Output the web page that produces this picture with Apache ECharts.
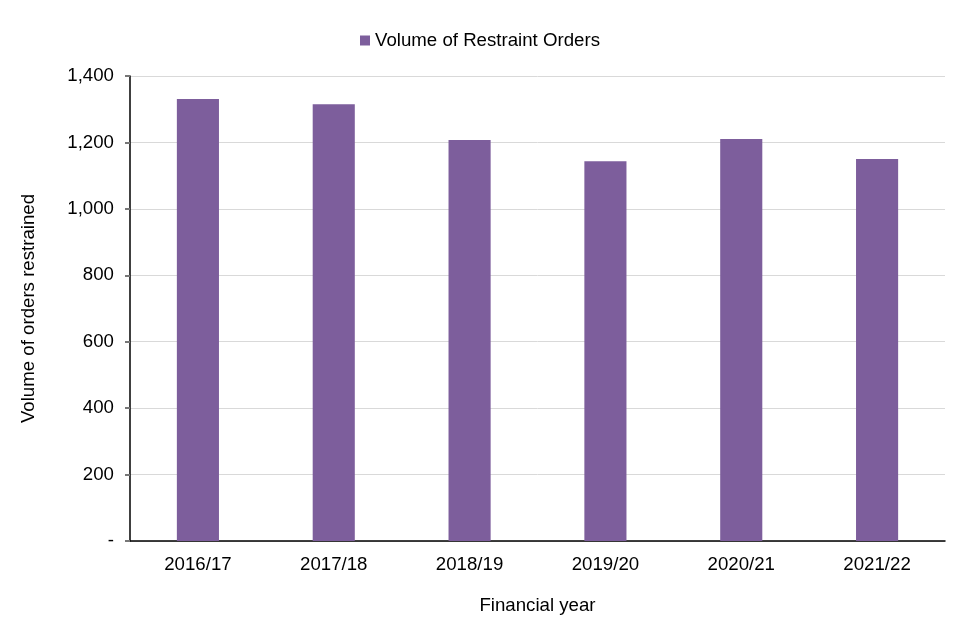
<!DOCTYPE html>
<html><head><meta charset="utf-8">
<script src="https://cdn.jsdelivr.net/npm/echarts@6/dist/echarts.min.js"></script>
<style>html,body{margin:0;padding:0;background:#fff}#c{width:960px;height:640px}</style>
</head><body><div id="c"></div>
<script>
const categories = ['2016/17','2017/18','2018/19','2019/20','2020/21','2021/22'];
const seriesName = 'Volume of Restraint Orders';
const values = [1331, 1315, 1207, 1143, 1210, 1150];
const yTicks = [0, 200, 400, 600, 800, 1000, 1200, 1400];

const chart = echarts.init(document.getElementById('c'), null, {renderer:'canvas'});
const font = 'Liberation Sans, Arial, sans-serif';
const fs = 18.67;
chart.setOption({
  animation:false,
  textStyle:{fontFamily:font},
  legend:{
    data:[seriesName], top:26, left:'center', itemWidth:10, itemHeight:10, itemGap:3,
    icon:'rect', textStyle:{fontFamily:font, fontSize:fs, color:'#000'}
  },
  grid:{left:130, right:15, top:76, bottom:99, containLabel:false},
  xAxis:{
    type:'category', data:categories, boundaryGap:true,
    name:'Financial year', nameLocation:'middle', nameGap:55,
    nameTextStyle:{fontFamily:font, fontSize:fs, color:'#000'},
    axisLine:{lineStyle:{color:'#000', width:1.5}},
    axisTick:{alignWithLabel:true, length:5, lineStyle:{color:'#888'}},
    axisLabel:{fontFamily:font, fontSize:fs, color:'#000', margin:14}
  },
  yAxis:{
    type:'value', min:yTicks[0], max:yTicks[yTicks.length-1], interval:200,
    name:'Volume of orders restrained', nameLocation:'middle', nameGap:92, nameRotate:90,
    nameTextStyle:{fontFamily:font, fontSize:fs, color:'#000'},
    axisLine:{show:true, lineStyle:{color:'#000', width:1.5}},
    axisTick:{show:true, length:5, lineStyle:{color:'#777', width:2}},
    splitLine:{lineStyle:{color:'#d9d9d9', width:1}},
    axisLabel:{fontFamily:font, fontSize:fs, color:'#000', margin:16,
      formatter:v => v === 0 ? '-' : v.toLocaleString('en-GB')}
  },
  series:[{
    name:seriesName, type:'bar', data:values, barWidth:'31%',
    itemStyle:{color:'#7d5e9c'}
  }]
});
</script></body></html>
